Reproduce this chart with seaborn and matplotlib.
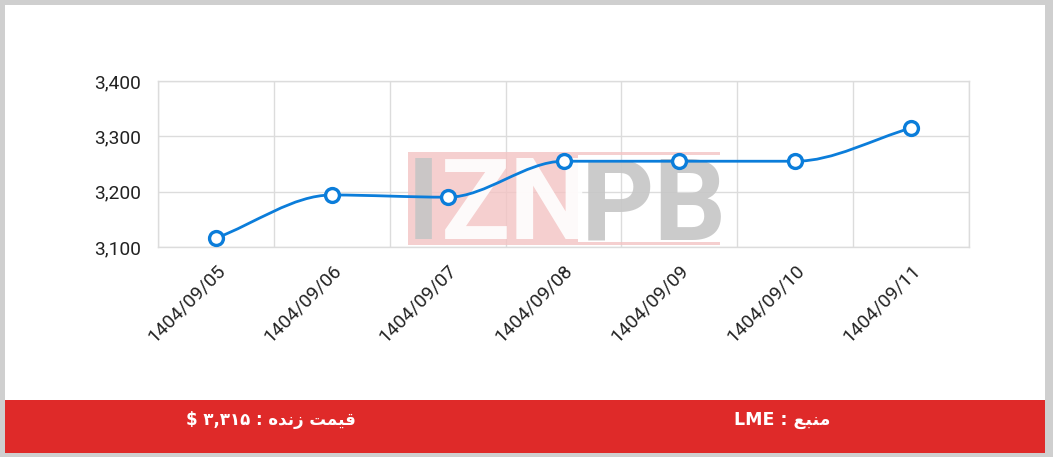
import numpy as np
import seaborn as sns
import matplotlib.pyplot as plt
from matplotlib.path import Path
from matplotlib.patches import PathPatch, Rectangle

# data
dates = ["1404/09/05", "1404/09/06", "1404/09/07", "1404/09/08",
         "1404/09/09", "1404/09/10", "1404/09/11"]
prices = [3116, 3194, 3190, 3255, 3255, 3255, 3315]
y_ticks = [3100, 3200, 3300, 3400]
y_tick_labels = ["3,100", "3,200", "3,300", "3,400"]

# footer text (Persian, pre-shaped in visual order)
source_text = "LME : \uFECA\uFE92\uFEE8\uFEE3"            # منبع : LME
live_text = ("$ \u06F3,\u06F3\u06F1\u06F5 : "
             "\uFEE9\uFEAA\uFEE7\uFEAF \uFE96\uFEE4\uFBFF\uFED7")  # قیمت زنده : ۳,۳۱۵ $

BLUE = "#0b7dda"
RED = "#df2a29"
GRID = "#dcdcdc"


def monotone_path(xs, ys):
    """Chart.js-style monotone cubic as bezier segments."""
    xs = np.asarray(xs, float)
    ys = np.asarray(ys, float)
    n = len(xs)
    d = np.diff(ys) / np.diff(xs)
    m = np.zeros(n)
    m[0], m[-1] = d[0], d[-1]
    for i in range(1, n - 1):
        if d[i - 1] == 0 or d[i] == 0 or np.sign(d[i - 1]) != np.sign(d[i]):
            m[i] = 0
        else:
            m[i] = (d[i - 1] + d[i]) / 2
    for i in range(n - 1):
        if d[i] == 0:
            m[i] = m[i + 1] = 0
            continue
        a, b = m[i] / d[i], m[i + 1] / d[i]
        mag = a * a + b * b
        if mag > 9:
            tau = 3 / np.sqrt(mag)
            m[i] = a * tau * d[i]
            m[i + 1] = b * tau * d[i]
    verts = [(xs[0], ys[0])]
    codes = [Path.MOVETO]
    for i in range(n - 1):
        h = (xs[i + 1] - xs[i]) / 3
        verts += [(xs[i] + h, ys[i] + m[i] * h),
                  (xs[i + 1] - h, ys[i + 1] - m[i + 1] * h),
                  (xs[i + 1], ys[i + 1])]
        codes += [Path.CURVE4] * 3
    return Path(verts, codes)


sns.set_theme(style="white")
plt.rcParams['font.family'] = ['Roboto', 'DejaVu Sans']

fig = plt.figure(figsize=(10.53, 4.57), dpi=100)
fig.patch.set_facecolor("#cfcfcf")

# card background and red footer band
W, H = 1053, 457
fig.add_artist(Rectangle((5 / W, (H - 400) / H), 1040 / W, 395 / H,
                         transform=fig.transFigure, facecolor="white",
                         edgecolor="none", zorder=-2))
fig.add_artist(Rectangle((5 / W, (H - 453) / H), 1040 / W, 53 / H,
                         transform=fig.transFigure, facecolor=RED,
                         edgecolor="none", zorder=-1))

ax = fig.add_axes([158 / W, (H - 247) / H, 811 / W, 166 / H])
ax.set_facecolor("white")

x = np.arange(len(dates))

# watermark
wm_kw = dict(transform=fig.transFigure, clip_on=False)
ax.add_patch(Rectangle((408 / W, (H - 245) / H), 170 / W, 93 / H,
                       facecolor="#f3c4c4", edgecolor="none", alpha=0.8,
                       zorder=1, **wm_kw))
for yy in (152, 242):
    ax.add_patch(Rectangle((578 / W, (H - yy - 3) / H), 142 / W, 3 / H,
                           facecolor="#f3c4c4", edgecolor="none", alpha=0.8,
                           zorder=1, **wm_kw))
wm_text = dict(fontsize=82, fontweight="bold", family="Roboto", ha="left",
               va="baseline", alpha=0.9, zorder=1.1, **wm_kw)
ax.text(407 / W, (H - 239) / H, "I", color="#c6c6c6", **wm_text)
ax.text(441 / W, (H - 239) / H, "ZN", color="white", **wm_text)
ax.text(581 / W, (H - 239) / H, "PB", color="#c6c6c6", **wm_text)

# smooth line + markers
ax.add_patch(PathPatch(monotone_path(x, prices), facecolor="none",
                       edgecolor=BLUE, lw=2.0, zorder=3))
sns.scatterplot(x=x, y=prices, ax=ax, s=100, color="white",
                edgecolor=BLUE, linewidth=2.4, zorder=4, clip_on=False)

ax.set_xlim(-0.5, len(dates) - 0.5)
ax.set_ylim(y_ticks[0], y_ticks[-1])
ax.set_xticks(x)
ax.set_xticklabels(dates, rotation=45, ha="right", va="top",
                   rotation_mode="anchor")
ax.set_xticks(np.arange(len(dates) + 1) - 0.5, minor=True)
ax.set_yticks(y_ticks)
ax.set_yticklabels(y_tick_labels)
ax.tick_params(axis="both", which="both", length=0, labelcolor="#222222")
ax.tick_params(axis="y", pad=12, labelsize=13.8)
ax.tick_params(axis="x", pad=10, labelsize=13.8)
ax.grid(True, axis="x", which="minor", color=GRID, lw=1)
ax.grid(True, axis="y", which="major", color=GRID, lw=1)
ax.grid(False, axis="x", which="major")
ax.set_axisbelow(True)
for sp in ax.spines.values():
    sp.set_color(GRID)
    sp.set_linewidth(1)
ax.set_xlabel("")
ax.set_ylabel("")

# footer labels
fig.text(782 / W, (H - 420) / H, source_text, color="white", fontsize=12.5,
         fontweight="bold", family=["DejaVu Sans"], ha="center", va="center")
fig.text(271 / W, (H - 420) / H, live_text, color="white", fontsize=12,
         fontweight="bold", family=["DejaVu Sans"], ha="center", va="center")

fig.savefig("out.png", dpi=100, facecolor=fig.get_facecolor())
